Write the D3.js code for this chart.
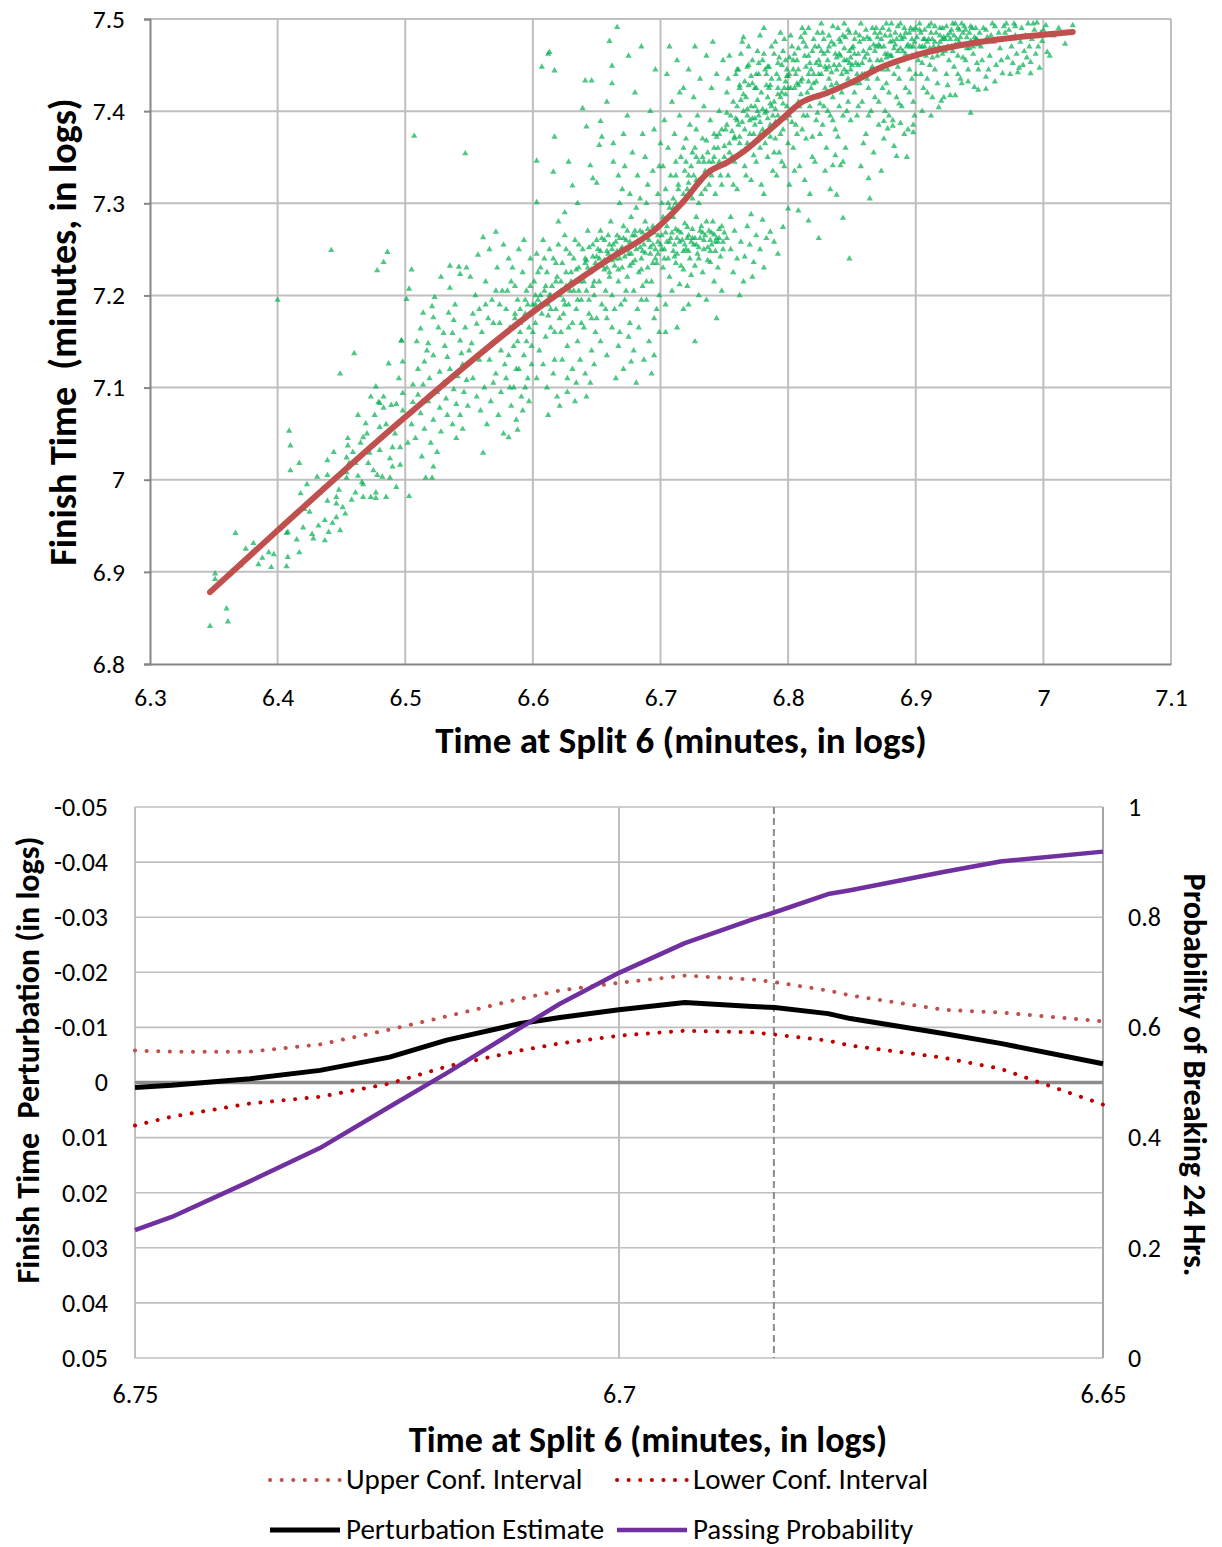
<!DOCTYPE html>
<html><head><meta charset="utf-8">
<script src="https://cdn.jsdelivr.net/npm/d3@7"></script>
<style>
body{margin:0;background:#fff;}
svg{display:block;font-family:Carlito,Lato,"Open Sans",sans-serif;}
</style></head>
<body><svg id="c" width="1222" height="1547"></svg>
<script>
// ---------- TOP PANEL DATA ----------
const topXTicks = [6.3,6.4,6.5,6.6,6.7,6.8,6.9,7.0,7.1];
const topYTicks = [6.8,6.9,7.0,7.1,7.2,7.3,7.4,7.5];
const fitX = [6.347,6.400,6.500,6.600,6.658,6.697,6.718,6.737,6.753,6.765,6.778,6.794,6.810,6.831,6.851,6.872,6.901,6.950,7.000,7.023];
const fitY = [6.878,6.945,7.068,7.182,7.238,7.273,7.302,7.333,7.345,7.356,7.371,7.390,7.409,7.420,7.432,7.447,7.461,7.475,7.483,7.486];
const scatter = [
[6.347,6.841],[6.351,6.898],[6.351,6.892],[6.360,6.860],[6.361,6.846],[6.367,6.942],[6.371,6.907],[6.381,6.931],[6.385,6.908],[6.393,6.921],[6.395,6.905],[6.397,6.919],[6.400,7.195],[6.388,6.915],[6.375,6.925],
[6.407,6.906],[6.407,6.942],[6.408,6.916],[6.408,6.943],[6.417,6.921],[6.420,6.948],[6.418,6.985],[6.421,6.968],[6.425,6.965],[6.427,6.941],[6.428,6.936],[6.429,6.981],[6.431,7.003],[6.433,6.986],[6.410,7.010],[6.409,7.053],[6.410,7.037],[6.417,7.018],[6.437,6.956],[6.437,6.934],[6.439,7.021],[6.439,7.005],[6.439,6.977],[6.440,6.943],[6.443,6.953],[6.444,7.030],[6.446,6.981],[6.446,6.974],[6.446,6.959],[6.448,6.989],[6.449,6.945],[6.442,7.249],[6.413,6.962],[6.423,6.995],[6.435,6.990],[6.415,6.935],[6.432,6.950],
[6.449,7.115],[6.451,6.970],[6.453,6.963],[6.454,7.002],[6.454,7.008],[6.454,7.024],[6.455,7.045],[6.455,7.037],[6.456,7.018],[6.458,6.978],[6.460,7.137],[6.461,6.986],[6.461,7.018],[6.463,7.004],[6.466,6.997],[6.467,6.995],[6.467,6.981],[6.467,7.046],[6.469,7.061],[6.471,7.018],[6.472,7.029],[6.473,7.090],[6.473,6.981],[6.475,7.010],[6.477,7.101],[6.477,6.986],[6.477,6.980],[6.478,7.005],[6.478,7.227],[6.479,7.084],[6.480,7.032],[6.480,7.083],[6.480,7.057],[6.482,7.003],[6.483,7.090],[6.483,7.078],[6.483,7.236],[6.485,6.981],[6.486,7.247],[6.487,7.126],[6.488,7.023],[6.488,7.002],[6.489,7.081],[6.490,7.035],[6.490,7.014],[6.493,7.082],[6.493,6.992],[6.495,7.110],[6.496,7.035],[6.496,7.016],[6.497,7.151],[6.498,7.075],[6.498,7.094],[6.465,7.040],[6.470,7.050],[6.485,7.060],[6.492,7.050],[6.476,7.070],[6.459,7.030],[6.463,7.070],
[6.507,7.373],[6.547,7.354],[6.503,7.207],[6.501,7.196],[6.505,7.228],[6.528,7.220],[6.535,7.232],[6.535,7.208],[6.523,7.198],[6.521,7.188],[6.514,7.181],[6.522,7.176],[6.512,7.164],[6.518,7.148],[6.522,7.135],[6.515,7.128],[6.510,7.120],[6.506,7.103],[6.542,7.231],[6.543,7.223],[6.548,7.230],[6.538,7.173],[6.534,7.181],[6.530,7.159],[6.537,7.159],[6.543,7.151],[6.544,7.137],[6.533,7.133],[6.527,7.117],[6.519,7.110],[6.514,7.103],[6.510,7.092],[6.506,7.084],[6.498,7.128],[6.497,7.151],
[6.505,7.060],[6.508,7.045],[6.512,7.072],[6.515,7.055],[6.518,7.085],[6.520,7.040],[6.522,7.065],[6.525,7.095],[6.527,7.078],[6.528,7.052],[6.530,7.105],[6.532,7.088],[6.533,7.070],[6.535,7.120],[6.537,7.060],[6.538,7.098],[6.540,7.082],[6.541,7.112],[6.543,7.070],[6.545,7.125],[6.546,7.095],[6.548,7.108],[6.549,7.080],[6.540,7.045],[6.525,7.030],[6.513,7.025],[6.502,7.040],[6.545,7.055],[6.550,7.140],[6.517,7.140],[6.531,7.145],[6.526,7.165],[6.547,7.165],[6.539,7.190],[6.509,7.150],
[6.503,6.982],[6.516,7.002],[6.521,7.002],[6.522,7.014],[6.561,7.029],[6.581,7.046],[6.588,7.054],[6.627,7.095],[6.677,7.128],
[6.557,7.244],[6.561,7.263],[6.571,7.269],[6.556,7.169],[6.552,7.148],[6.551,7.220],[6.555,7.200],[6.558,7.185],[6.560,7.160],[6.562,7.140],[6.563,7.215],[6.565,7.175],[6.566,7.130],[6.568,7.195],[6.570,7.150],[6.571,7.115],[6.572,7.230],[6.574,7.170],[6.575,7.140],[6.576,7.205],[6.578,7.125],[6.579,7.185],[6.580,7.160],[6.581,7.240],[6.582,7.100],[6.583,7.215],[6.585,7.145],[6.586,7.175],[6.587,7.120],[6.588,7.195],[6.589,7.250],[6.590,7.160],[6.591,7.090],[6.592,7.225],[6.593,7.135],[6.594,7.180],[6.595,7.205],[6.596,7.110],[6.597,7.165],[6.598,7.240],[6.599,7.145],[6.600,7.190],[6.553,7.110],[6.556,7.090],[6.559,7.075],[6.562,7.100],[6.564,7.060],[6.567,7.085],[6.569,7.105],[6.573,7.070],[6.575,7.095],[6.577,7.050],[6.579,7.110],[6.583,7.080],[6.585,7.100],[6.587,7.065],[6.589,7.120],[6.592,7.075],[6.594,7.100],[6.597,7.085],[6.599,7.125],[6.566,7.250],[6.577,7.255],[6.584,7.230],[6.593,7.260],[6.598,7.210],[6.571,7.205],[6.581,7.135],[6.588,7.150],[6.595,7.150],[6.558,7.130],[6.563,7.190],[6.574,7.190],[6.580,7.205],[6.590,7.185],[6.596,7.190],[6.600,7.160],[6.586,7.210],[6.569,7.170],[6.553,7.180],
[6.607,7.448],[6.613,7.464],[6.617,7.444],[6.603,7.346],[6.616,7.334],[6.603,7.301],[6.617,7.372],[6.631,7.319],[6.639,7.403],[6.642,7.383],[6.641,7.433],[6.646,7.433],[6.645,7.341],[6.647,7.327],[6.612,7.462],[6.625,7.290],[6.635,7.300],[6.628,7.345],[6.620,7.280],
[6.601,7.215],[6.602,7.170],[6.603,7.245],[6.604,7.195],[6.605,7.140],[6.606,7.230],[6.607,7.180],[6.608,7.260],[6.609,7.205],[6.610,7.155],[6.611,7.225],[6.612,7.190],[6.613,7.250],[6.614,7.165],[6.615,7.210],[6.616,7.240],[6.617,7.130],[6.618,7.185],[6.619,7.220],[6.620,7.255],[6.621,7.200],[6.622,7.160],[6.623,7.235],[6.624,7.180],[6.625,7.265],[6.626,7.210],[6.627,7.145],[6.628,7.190],[6.629,7.245],[6.630,7.225],[6.631,7.170],[6.632,7.205],[6.633,7.260],[6.634,7.185],[6.635,7.150],[6.636,7.230],[6.637,7.215],[6.638,7.195],[6.639,7.250],[6.640,7.165],[6.641,7.240],[6.642,7.205],[6.643,7.270],[6.644,7.180],[6.645,7.225],[6.646,7.140],[6.647,7.255],[6.648,7.200],[6.649,7.235],[6.650,7.175],
[6.603,7.110],[6.608,7.125],[6.611,7.100],[6.616,7.115],[6.619,7.090],[6.623,7.130],[6.627,7.110],[6.631,7.120],[6.634,7.105],[6.637,7.130],[6.641,7.115],[6.645,7.105],[6.648,7.125],[6.621,7.080],[6.633,7.085],[6.642,7.090],[6.612,7.070],
[6.604,7.225],[6.609,7.240],[6.613,7.200],[6.618,7.235],[6.622,7.215],[6.626,7.250],[6.629,7.205],[6.632,7.240],[6.636,7.255],[6.640,7.215],[6.643,7.230],[6.647,7.210],[6.606,7.200],[6.614,7.185],[6.621,7.175],[6.628,7.165],[6.635,7.195],[6.644,7.195],[6.649,7.160],[6.602,7.190],[6.617,7.160],[6.625,7.190],[6.638,7.170],[6.646,7.175],
[6.651,7.250],[6.652,7.215],[6.653,7.270],[6.654,7.190],[6.655,7.235],[6.656,7.260],[6.657,7.205],[6.658,7.175],[6.659,7.245],[6.660,7.225],[6.661,7.280],[6.662,7.200],[6.663,7.255],[6.664,7.185],[6.665,7.240],[6.666,7.265],[6.667,7.215],[6.668,7.160],[6.669,7.250],[6.670,7.230],[6.671,7.275],[6.672,7.195],[6.673,7.260],[6.674,7.220],[6.675,7.245],[6.676,7.170],[6.677,7.285],[6.678,7.235],[6.679,7.205],[6.680,7.265],[6.681,7.250],[6.682,7.185],[6.683,7.225],[6.684,7.270],[6.685,7.240],[6.686,7.210],[6.687,7.255],[6.688,7.280],[6.689,7.195],[6.690,7.230],[6.691,7.260],[6.692,7.245],[6.693,7.215],[6.694,7.275],[6.695,7.175],[6.696,7.250],[6.697,7.235],[6.698,7.265],[6.699,7.200],[6.700,7.255],
[6.652,7.240],[6.656,7.228],[6.660,7.255],[6.664,7.232],[6.668,7.262],[6.672,7.242],[6.676,7.258],[6.680,7.238],[6.684,7.252],[6.688,7.246],[6.692,7.268],[6.696,7.240],[6.654,7.262],[6.662,7.238],[6.670,7.252],[6.678,7.265],[6.686,7.268],[6.694,7.255],[6.698,7.245],[6.666,7.248],[6.674,7.270],[6.682,7.258],[6.690,7.272],
[6.653,7.150],[6.658,7.135],[6.662,7.165],[6.667,7.145],[6.671,7.120],[6.675,7.155],[6.679,7.140],[6.683,7.165],[6.687,7.130],[6.691,7.150],[6.695,7.135],[6.699,7.160],[6.665,7.110],[6.681,7.105],[6.693,7.115],[6.657,7.185],[6.669,7.190],[6.685,7.195],[6.697,7.185],[6.673,7.205],[6.689,7.215],
[6.650,7.322],[6.653,7.389],[6.654,7.372],[6.652,7.363],[6.660,7.476],[6.662,7.449],[6.662,7.430],[6.663,7.365],[6.663,7.345],[6.666,7.491],[6.668,7.300],[6.670,7.315],[6.672,7.340],[6.674,7.395],[6.676,7.310],[6.678,7.355],[6.680,7.420],[6.682,7.330],[6.684,7.305],[6.686,7.375],[6.688,7.350],[6.690,7.320],[6.692,7.400],[6.694,7.335],[6.696,7.445],[6.698,7.310],[6.700,7.365],[6.675,7.460],[6.685,7.470],[6.658,7.410],[6.667,7.330],[6.689,7.300],[6.695,7.380],[6.699,7.340],[6.671,7.375],[6.681,7.295],
[6.701,7.265],[6.703,7.250],[6.705,7.275],[6.706,7.240],[6.708,7.262],[6.710,7.285],[6.711,7.255],[6.713,7.245],[6.714,7.270],[6.716,7.232],[6.717,7.260],[6.719,7.278],[6.720,7.250],[6.722,7.265],[6.723,7.240],[6.725,7.272],[6.726,7.255],[6.728,7.285],[6.729,7.245],[6.731,7.262],[6.732,7.275],[6.734,7.250],[6.735,7.265],[6.737,7.238],[6.738,7.270],[6.740,7.255],[6.741,7.280],[6.743,7.248],[6.744,7.262],[6.746,7.272],[6.747,7.242],[6.749,7.258],[6.750,7.268],
[6.702,7.230],[6.707,7.220],[6.712,7.235],[6.715,7.212],[6.718,7.228],[6.724,7.222],[6.727,7.232],[6.733,7.225],[6.739,7.236],[6.745,7.230],[6.709,7.205],[6.721,7.210],[6.730,7.200],[6.742,7.215],[6.704,7.190],[6.718,7.185],[6.736,7.195],[6.748,7.205],[6.713,7.165],[6.727,7.150],[6.704,7.160],[6.744,7.175],[6.722,7.190],
[6.702,7.280],[6.709,7.268],[6.715,7.258],[6.721,7.274],[6.727,7.262],[6.733,7.268],[6.739,7.260],[6.745,7.258],[6.705,7.258],[6.711,7.242],[6.718,7.248],[6.724,7.258],[6.730,7.252],[6.736,7.280],[6.742,7.266],
[6.701,7.300],[6.702,7.340],[6.703,7.390],[6.704,7.315],[6.705,7.440],[6.706,7.360],[6.707,7.295],[6.708,7.330],[6.709,7.410],[6.710,7.305],[6.711,7.375],[6.712,7.345],[6.713,7.455],[6.714,7.320],[6.715,7.395],[6.716,7.350],[6.717,7.300],[6.718,7.425],[6.719,7.335],[6.720,7.370],[6.721,7.315],[6.722,7.445],[6.723,7.385],[6.724,7.340],[6.725,7.305],[6.726,7.415],[6.727,7.360],[6.728,7.325],[6.729,7.395],[6.730,7.345],[6.731,7.435],[6.732,7.310],[6.733,7.370],[6.734,7.405],[6.735,7.335],[6.736,7.460],[6.737,7.355],[6.738,7.320],[6.739,7.390],[6.740,7.425],[6.741,7.345],[6.742,7.375],[6.743,7.310],[6.744,7.440],[6.745,7.360],[6.746,7.400],[6.747,7.330],[6.748,7.380],[6.749,7.455],[6.750,7.350],
[6.712,7.300],[6.722,7.330],[6.730,7.300],[6.735,7.315],[6.740,7.330],[6.745,7.340],[6.748,7.320],[6.725,7.355],[6.733,7.350],[6.738,7.345],[6.742,7.360],[6.746,7.375],[6.718,7.360],[6.728,7.380],[6.715,7.420],[6.707,7.470],[6.727,7.470],[6.741,7.475],
[6.752,7.262],[6.755,7.250],[6.758,7.270],[6.760,7.240],[6.763,7.258],[6.766,7.242],[6.768,7.275],[6.770,7.255],[6.773,7.236],[6.775,7.265],[6.778,7.250],[6.780,7.282],[6.783,7.262],[6.786,7.269],[6.789,7.258],[6.796,7.274],[6.800,7.294],[6.808,7.292],[6.816,7.281],[6.824,7.262],[6.843,7.284],[6.757,7.225],[6.765,7.215],[6.772,7.220],[6.781,7.230],[6.762,7.200],[6.792,7.245],[6.848,7.240],[6.755,7.285],[6.771,7.288],
[6.751,7.380],[6.752,7.420],[6.753,7.330],[6.754,7.460],[6.755,7.395],[6.756,7.350],[6.757,7.410],[6.758,7.370],[6.759,7.440],[6.760,7.315],[6.761,7.385],[6.762,7.425],[6.763,7.355],[6.764,7.475],[6.765,7.400],[6.766,7.340],[6.767,7.415],[6.768,7.365],[6.769,7.450],[6.770,7.390],[6.771,7.325],[6.772,7.430],[6.773,7.375],[6.774,7.405],[6.775,7.345],[6.776,7.465],[6.777,7.395],[6.778,7.360],[6.779,7.420],[6.780,7.380],[6.781,7.310],[6.782,7.445],[6.783,7.400],[6.784,7.350],[6.785,7.425],[6.786,7.385],[6.787,7.470],[6.788,7.335],[6.789,7.410],[6.790,7.370],[6.791,7.440],[6.792,7.395],[6.793,7.355],[6.794,7.485],[6.795,7.420],[6.796,7.380],[6.797,7.340],[6.798,7.455],[6.799,7.405],[6.800,7.365],
[6.752,7.398],[6.756,7.378],[6.760,7.405],[6.764,7.388],[6.768,7.402],[6.772,7.392],[6.776,7.412],[6.780,7.402],[6.784,7.415],[6.788,7.395],[6.792,7.418],[6.796,7.408],[6.800,7.425],[6.754,7.365],[6.758,7.345],[6.762,7.372],[6.766,7.358],[6.770,7.362],[6.774,7.385],[6.778,7.375],[6.782,7.365],[6.786,7.372],[6.790,7.388],[6.794,7.375],[6.798,7.392],[6.753,7.435],[6.761,7.445],[6.769,7.428],[6.777,7.440],[6.785,7.448],[6.793,7.435],[6.799,7.445],[6.757,7.320],[6.767,7.330],[6.779,7.320],[6.791,7.330],[6.795,7.345],[6.771,7.405],[6.783,7.428],[6.775,7.425],[6.763,7.412],[6.787,7.405],[6.797,7.425],[6.759,7.392],[6.773,7.352],[6.789,7.355],[6.765,7.480],[6.781,7.490],[6.797,7.478],
[6.801,7.440],[6.802,7.400],[6.803,7.470],[6.804,7.360],[6.805,7.425],[6.806,7.385],[6.807,7.455],[6.808,7.410],[6.809,7.340],[6.810,7.480],[6.811,7.435],[6.812,7.395],[6.813,7.460],[6.814,7.370],[6.815,7.420],[6.816,7.490],[6.817,7.405],[6.818,7.445],[6.819,7.350],[6.820,7.430],[6.821,7.470],[6.822,7.390],[6.823,7.415],[6.824,7.455],[6.825,7.375],[6.826,7.440],[6.827,7.485],[6.828,7.405],[6.829,7.425],[6.830,7.360],[6.831,7.465],[6.832,7.435],[6.833,7.395],[6.834,7.475],[6.835,7.415],[6.836,7.450],[6.837,7.380],[6.838,7.430],[6.839,7.490],[6.840,7.405],[6.841,7.460],[6.842,7.420],[6.843,7.345],[6.844,7.445],[6.845,7.480],[6.846,7.400],[6.847,7.435],[6.848,7.465],[6.849,7.390],[6.850,7.450],
[6.802,7.425],[6.806,7.440],[6.810,7.418],[6.814,7.448],[6.818,7.425],[6.822,7.452],[6.826,7.418],[6.830,7.445],[6.834,7.428],[6.838,7.458],[6.842,7.440],[6.846,7.455],[6.850,7.430],[6.804,7.455],[6.808,7.468],[6.812,7.475],[6.816,7.460],[6.820,7.478],[6.824,7.470],[6.828,7.462],[6.832,7.482],[6.836,7.472],[6.840,7.478],[6.844,7.468],[6.848,7.485],[6.803,7.388],[6.807,7.375],[6.811,7.380],[6.815,7.395],[6.819,7.372],[6.823,7.398],[6.827,7.385],[6.831,7.400],[6.835,7.390],[6.839,7.372],[6.843,7.395],[6.847,7.410],[6.805,7.335],[6.813,7.325],[6.821,7.345],[6.829,7.335],[6.837,7.352],[6.845,7.360],[6.817,7.310],[6.833,7.315],[6.801,7.320],[6.838,7.309],[6.835,7.341],[6.841,7.341],[6.825,7.408],[6.809,7.405],[6.849,7.445],[6.801,7.395],[6.826,7.495],[6.844,7.495],
[6.851,7.470],[6.852,7.420],[6.853,7.485],[6.854,7.395],[6.855,7.450],[6.856,7.430],[6.857,7.495],[6.858,7.410],[6.859,7.465],[6.860,7.440],[6.861,7.375],[6.862,7.480],[6.863,7.425],[6.864,7.455],[6.865,7.400],[6.866,7.490],[6.867,7.445],[6.868,7.415],[6.869,7.470],[6.870,7.435],[6.871,7.385],[6.872,7.485],[6.873,7.455],[6.874,7.425],[6.875,7.470],[6.876,7.400],[6.877,7.495],[6.878,7.445],[6.879,7.420],[6.880,7.475],[6.881,7.460],[6.882,7.390],[6.883,7.440],[6.884,7.485],[6.885,7.415],[6.886,7.465],[6.887,7.435],[6.888,7.495],[6.889,7.405],[6.890,7.455],[6.891,7.480],[6.892,7.425],[6.893,7.470],[6.894,7.380],[6.895,7.445],[6.896,7.490],[6.897,7.460],[6.898,7.410],[6.899,7.475],[6.900,7.440],
[6.852,7.462],[6.856,7.475],[6.860,7.458],[6.864,7.478],[6.868,7.465],[6.872,7.470],[6.876,7.482],[6.880,7.460],[6.884,7.472],[6.888,7.468],[6.892,7.485],[6.896,7.470],[6.854,7.440],[6.858,7.452],[6.862,7.435],[6.866,7.448],[6.870,7.455],[6.874,7.445],[6.878,7.462],[6.882,7.452],[6.886,7.448],[6.890,7.465],[6.894,7.458],[6.898,7.488],[6.855,7.405],[6.863,7.395],[6.871,7.410],[6.879,7.395],[6.887,7.408],[6.895,7.420],[6.859,7.365],[6.867,7.355],[6.875,7.370],[6.883,7.362],[6.891,7.375],[6.899,7.395],[6.863,7.327],[6.864,7.305],[6.885,7.351],[6.857,7.340],[6.873,7.335],[6.893,7.350],[6.869,7.490],[6.881,7.495],[6.853,7.430],[6.877,7.430],[6.897,7.435],
[6.901,7.480],[6.902,7.455],[6.903,7.495],[6.904,7.440],[6.905,7.470],[6.906,7.425],[6.907,7.488],[6.908,7.460],[6.909,7.435],[6.910,7.478],[6.911,7.450],[6.912,7.495],[6.913,7.415],[6.914,7.470],[6.915,7.445],[6.916,7.485],[6.917,7.460],[6.918,7.404],[6.919,7.475],[6.920,7.411],[6.921,7.490],[6.922,7.415],[6.923,7.465],[6.924,7.440],[6.925,7.482],[6.926,7.455],[6.927,7.417],[6.928,7.470],[6.929,7.495],[6.930,7.448],[6.931,7.417],[6.932,7.478],[6.933,7.460],[6.934,7.488],[6.935,7.435],[6.936,7.430],[6.937,7.472],[6.938,7.492],[6.939,7.455],[6.940,7.480],[6.941,7.445],[6.942,7.468],[6.943,7.398],[6.944,7.490],[6.945,7.462],[6.946,7.426],[6.947,7.478],[6.948,7.452],[6.949,7.423],[6.950,7.485],
[6.903,7.470],[6.907,7.478],[6.911,7.468],[6.915,7.475],[6.919,7.482],[6.923,7.478],[6.927,7.485],[6.931,7.472],[6.935,7.480],[6.939,7.488],[6.943,7.476],[6.947,7.490],[6.905,7.452],[6.913,7.458],[6.921,7.462],[6.929,7.465],[6.937,7.458],[6.945,7.470],[6.909,7.420],[6.917,7.430],[6.925,7.428],[6.933,7.440],[6.941,7.432],[6.949,7.445],[6.898,7.377],[6.898,7.385],[6.888,7.387],[6.878,7.381],[6.875,7.389],[6.882,7.384],[6.912,7.395],[6.905,7.400],
[6.951,7.470],[6.953,7.490],[6.955,7.424],[6.955,7.437],[6.956,7.480],[6.958,7.460],[6.960,7.495],[6.961,7.475],[6.963,7.450],[6.965,7.485],[6.966,7.468],[6.968,7.441],[6.969,7.492],[6.970,7.478],[6.972,7.458],[6.973,7.488],[6.975,7.470],[6.977,7.495],[6.978,7.482],[6.980,7.442],[6.981,7.447],[6.982,7.475],[6.983,7.490],[6.985,7.465],[6.986,7.482],[6.988,7.495],[6.990,7.441],[6.990,7.453],[6.991,7.478],[6.993,7.488],[6.995,7.496],[6.996,7.470],[6.997,7.447],[6.998,7.485],[7.002,7.493],[7.003,7.464],[7.005,7.460],[7.008,7.482],[7.012,7.490],[7.017,7.473],[7.023,7.493],[6.957,7.445],[6.962,7.432],[6.967,7.455],[6.974,7.440],[6.979,7.462],[6.984,7.450],[6.989,7.470],[6.994,7.462],[6.999,7.476],[6.952,7.455],[6.964,7.478],[6.971,7.495],[6.976,7.452],[6.987,7.458],[7.000,7.488],[6.959,7.482],[6.992,7.495]
];
// extra points read from the densest parts of the cloud
const scatterCore = [
[6.760,7.445],[6.763,7.462],[6.766,7.432],[6.769,7.470],[6.772,7.455],[6.775,7.440],[6.778,7.482],[6.781,7.462],[6.784,7.448],[6.787,7.435],[6.790,7.475],[6.793,7.458],[6.796,7.465],[6.799,7.438],[6.802,7.482],[6.805,7.462],[6.808,7.445],[6.811,7.490],[6.814,7.470],[6.817,7.452],[6.820,7.440],[6.823,7.485],[6.826,7.465],[6.829,7.448],[6.832,7.470],[6.835,7.492],[6.838,7.445],[6.841,7.475],[6.844,7.455],[6.847,7.488],[6.850,7.468],[6.853,7.452],[6.856,7.482],[6.859,7.478],[6.862,7.462],[6.865,7.445],[6.868,7.485],[6.871,7.472],[6.874,7.490],[6.877,7.458],[6.880,7.482],[6.883,7.468],[6.886,7.492],[6.889,7.478],[6.892,7.462],[6.895,7.485],[6.898,7.470],[6.901,7.462],[6.904,7.485],[6.907,7.470],[6.910,7.492],[6.913,7.478],[6.916,7.465],[6.919,7.490],[6.922,7.480],[6.925,7.470],[6.928,7.488],[6.931,7.495],[6.934,7.475],[6.937,7.485],[6.940,7.468],[6.943,7.492],[6.946,7.480],[6.949,7.472],
[6.762,7.428],[6.768,7.448],[6.774,7.425],[6.780,7.455],[6.786,7.428],[6.792,7.452],[6.798,7.432],[6.804,7.445],[6.810,7.432],[6.816,7.440],[6.822,7.432],[6.828,7.478],[6.834,7.442],[6.840,7.462],[6.846,7.442],[6.852,7.478],[6.858,7.440],[6.864,7.468],[6.870,7.480],[6.876,7.462],[6.882,7.476],[6.888,7.482],[6.894,7.472],[6.900,7.490],[6.906,7.478],[6.912,7.485],[6.918,7.470],[6.924,7.492],[6.930,7.482],[6.936,7.495],[6.942,7.485],[6.948,7.478],[6.955,7.488],[6.962,7.492],[6.970,7.485],[6.978,7.492],
[6.765,7.418],[6.771,7.438],[6.777,7.452],[6.783,7.440],[6.789,7.462],[6.795,7.450],[6.801,7.458],[6.807,7.430],[6.813,7.485],[6.819,7.465],[6.825,7.450],[6.831,7.455],[6.837,7.462],[6.843,7.482],[6.849,7.458],[6.855,7.462],[6.861,7.488],[6.867,7.472],[6.873,7.478],[6.879,7.488],[6.885,7.478],[6.891,7.490],[6.897,7.478],[6.903,7.488],[6.909,7.475],[6.915,7.492],[6.921,7.478],[6.927,7.478],[6.933,7.490],[6.939,7.472],
[6.641,7.235],[6.644,7.252],[6.647,7.242],[6.650,7.260],[6.653,7.248],[6.656,7.238],[6.659,7.265],[6.662,7.250],[6.665,7.258],[6.668,7.240],[6.671,7.262],[6.674,7.250],[6.677,7.245],[6.680,7.270],[6.683,7.258],[6.686,7.248],[6.689,7.262],[6.692,7.252],[6.695,7.268],[6.698,7.258],[6.701,7.250],[6.704,7.268],[6.707,7.258],[6.710,7.248],[6.713,7.262],[6.716,7.268],[6.719,7.255],[6.722,7.248],[6.725,7.262],[6.728,7.255],[6.731,7.270],[6.734,7.260],[6.737,7.252],[6.740,7.268],[6.743,7.258],[6.746,7.262],[6.749,7.250],[6.658,7.230],[6.667,7.228],[6.676,7.232],[6.685,7.228],[6.694,7.235],[6.703,7.240],[6.712,7.272],[6.721,7.262],[6.730,7.240],[6.739,7.248],[6.748,7.275],
[6.702,7.285],[6.706,7.300],[6.710,7.295],[6.714,7.315],[6.718,7.310],[6.722,7.322],[6.726,7.330],[6.730,7.325],[6.734,7.345],[6.738,7.335],[6.742,7.350],[6.746,7.345],[6.750,7.362],[6.754,7.355],[6.758,7.372],[6.762,7.365],[6.766,7.380],[6.770,7.375],[6.774,7.392],[6.778,7.388],[6.782,7.398],[6.786,7.408],[6.790,7.402],[6.794,7.415],[6.798,7.418],[6.712,7.330],[6.720,7.345],[6.728,7.350],[6.736,7.368],[6.744,7.372],[6.752,7.385],[6.760,7.390],[6.768,7.395],[6.776,7.400],[6.784,7.392],[6.792,7.425],[6.800,7.438],[6.808,7.428],[6.816,7.432],[6.824,7.440],[6.832,7.448],[6.840,7.450],[6.848,7.452],
[6.582,7.165],[6.586,7.180],[6.590,7.170],[6.594,7.195],[6.598,7.180],[6.602,7.200],[6.606,7.190],[6.610,7.210],[6.614,7.200],[6.618,7.215],[6.622,7.205],[6.626,7.225],[6.630,7.215],[6.634,7.228],[6.638,7.220],[6.642,7.238],[6.646,7.228],[6.650,7.242],[6.654,7.232],[6.658,7.248],[6.612,7.178],[6.624,7.195],[6.636,7.205],[6.648,7.215],[6.660,7.220]
];

// ---------- BOTTOM PANEL DATA ----------
const splitX   = [6.750,6.7462,6.7381,6.7309,6.7237,6.7178,6.7102,6.7061,6.7000,6.6932,6.6862,6.6839,6.6784,6.6761,6.6665,6.6606,6.6500];
const estimate = [0.0009,0.0005,-0.0007,-0.0022,-0.0046,-0.0077,-0.0107,-0.0118,-0.0132,-0.0145,-0.0138,-0.0136,-0.0125,-0.0116,-0.0089,-0.0071,-0.0034];
const upperCI  = [-0.0058,-0.0056,-0.0056,-0.0069,-0.0096,-0.0120,-0.0152,-0.0167,-0.0181,-0.0194,-0.0187,-0.0182,-0.0167,-0.0158,-0.0132,-0.0127,-0.0111];
const lowerCI  = [0.0078,0.0062,0.0038,0.0026,0.0002,-0.0029,-0.0058,-0.0071,-0.0085,-0.0094,-0.0091,-0.0087,-0.0076,-0.0067,-0.0045,-0.0025,0.0040];
const passProb = [0.232,0.256,0.321,0.381,0.456,0.517,0.599,0.643,0.699,0.753,0.796,0.809,0.842,0.849,0.882,0.901,0.919];
const markerX = 6.684;
const botXTicks = [6.75,6.7,6.65];
const botYTicks = [-0.05,-0.04,-0.03,-0.02,-0.01,0,0.01,0.02,0.03,0.04,0.05];
const probTicks = [0,0.2,0.4,0.6,0.8,1];
const legendItems = [
  {name:"Upper Conf. Interval", key:"upper"},
  {name:"Lower Conf. Interval", key:"lower"},
  {name:"Perturbation Estimate", key:"est"},
  {name:"Passing Probability", key:"prob"}
];

const svg = d3.select("#c");
const FONT = 'Carlito,Lato,"Open Sans",sans-serif';
const grid = "#bfbfbf", axisCol = "#868686";
const fmtG = d => String(+d.toFixed(2));

// ================= TOP PANEL =================
const tx = d3.scaleLinear().domain([6.3,7.1]).range([150,1171]);
const ty = d3.scaleLinear().domain([6.8,7.5]).range([664,19]);
const topG = svg.append("g");

topG.append("g").selectAll("line").data(topXTicks.slice(1)).join("line")
  .attr("x1",d=>tx(d)).attr("x2",d=>tx(d)).attr("y1",ty(6.8)).attr("y2",ty(7.5))
  .attr("stroke",grid).attr("stroke-width",2);
topG.append("g").selectAll("line").data(topYTicks.slice(1)).join("line")
  .attr("x1",tx(6.3)).attr("x2",tx(7.1)).attr("y1",d=>ty(d)).attr("y2",d=>ty(d))
  .attr("stroke",grid).attr("stroke-width",2);

const tyAxis = topG.append("g").attr("transform","translate(150,0)")
  .call(d3.axisLeft(ty).tickValues(topYTicks).tickSize(6).tickPadding(19).tickFormat(fmtG));
tyAxis.select(".domain").attr("stroke",axisCol).attr("stroke-width",2);
tyAxis.selectAll(".tick line").attr("stroke",axisCol).attr("stroke-width",2);
tyAxis.selectAll("text").attr("font-family",FONT).attr("font-size",25.5).attr("fill","#000");

const txAxis = topG.append("g").attr("transform","translate(0,664)")
  .call(d3.axisBottom(tx).tickValues(topXTicks).tickSize(0).tickPadding(24).tickFormat(fmtG));
txAxis.select(".domain").attr("stroke",axisCol).attr("stroke-width",2);
txAxis.selectAll("text").attr("font-family",FONT).attr("font-size",25.5).attr("fill","#000");

const tri = d3.symbol().type(d3.symbolTriangle).size(17);
topG.append("g").selectAll("path").data(scatter.concat(scatterCore)).join("path")
  .attr("d",tri).attr("transform",d=>`translate(${tx(d[0])},${ty(d[1])})`)
  .attr("fill","#00b050").attr("fill-opacity",0.7);

const fitLine = d3.line().x((d,i)=>tx(fitX[i])).y(d=>ty(d)).curve(d3.curveMonotoneX);
topG.append("path").datum(fitY).attr("d",fitLine).attr("fill","none")
  .attr("stroke","#c0504d").attr("stroke-width",6).attr("stroke-linecap","round");

topG.append("text").attr("x",681).attr("y",753).attr("text-anchor","middle")
  .attr("font-family",FONT).attr("font-weight","bold").attr("font-size",37).text("Time at Split 6 (minutes, in logs)");
topG.append("text").attr("transform","translate(76,332) rotate(-90)").attr("text-anchor","middle")
  .attr("font-family",FONT).attr("font-weight","bold").attr("font-size",38).attr("xml:space","preserve").text("Finish Time  (minutes, in logs)");

// ================= BOTTOM PANEL =================
const bx = d3.scaleLinear().domain([6.75,6.65]).range([135,1103]);
const by = d3.scaleLinear().domain([-0.05,0.05]).range([807,1358]);
const bp = d3.scaleLinear().domain([0,1]).range([1358,807]);
const botG = svg.append("g");

botG.append("g").selectAll("line").data(botYTicks).join("line")
  .attr("x1",bx(6.75)).attr("x2",bx(6.65)).attr("y1",d=>by(d)).attr("y2",d=>by(d))
  .attr("stroke",grid).attr("stroke-width",1.6);
botG.append("g").selectAll("line").data(botXTicks).join("line")
  .attr("x1",d=>bx(d)).attr("x2",d=>bx(d)).attr("y1",by(-0.05)).attr("y2",by(0.05))
  .attr("stroke",d=>d===6.65?"#a6a6a6":grid).attr("stroke-width",2);
botG.append("line").attr("x1",bx(6.75)).attr("x2",bx(6.65)).attr("y1",by(0)).attr("y2",by(0))
  .attr("stroke","#8c8c8c").attr("stroke-width",3.5);
botG.append("line").attr("x1",bx(markerX)).attr("x2",bx(markerX)).attr("y1",by(-0.05)).attr("y2",by(0.05))
  .attr("stroke","#8c8c8c").attr("stroke-width",2).attr("stroke-dasharray","7,4");

const fmtL = d => d===0 ? "0" : (d<0?"-":"") + Math.abs(d).toFixed(2);
const byAxis = botG.append("g").attr("transform","translate(135,0)")
  .call(d3.axisLeft(by).tickValues(botYTicks).tickSize(0).tickPadding(27).tickFormat(fmtL));
byAxis.select(".domain").remove();
byAxis.selectAll("text").attr("font-family",FONT).attr("font-size",26).attr("fill","#000");

const bpAxis = botG.append("g").attr("transform","translate(1103,0)")
  .call(d3.axisRight(bp).tickValues(probTicks).tickSize(0).tickPadding(25).tickFormat(fmtG));
bpAxis.select(".domain").remove();
bpAxis.selectAll("text").attr("font-family",FONT).attr("font-size",26).attr("fill","#000");

const bxAxis = botG.append("g").attr("transform","translate(0,1358)")
  .call(d3.axisBottom(bx).tickValues(botXTicks).tickSize(0).tickPadding(27).tickFormat(fmtG));
bxAxis.select(".domain").remove();
bxAxis.selectAll("text").attr("font-family",FONT).attr("font-size",26).attr("fill","#000");

const lineL = d3.line().x((d,i)=>bx(splitX[i])).y(d=>by(d));
const lineR = d3.line().x((d,i)=>bx(splitX[i])).y(d=>bp(d));
const styles = {
  upper:{stroke:"#c0504d",w:4,dash:"0.1,11.5",cap:"round"},
  lower:{stroke:"#c00000",w:4,dash:"0.1,11.5",cap:"round"},
  est:{stroke:"#000000",w:5,dash:null,cap:"butt"},
  prob:{stroke:"#7030a0",w:4.5,dash:null,cap:"butt"}
};
function drawSeries(data,gen,st){
  botG.append("path").datum(data).attr("d",gen).attr("fill","none")
    .attr("stroke",st.stroke).attr("stroke-width",st.w).attr("stroke-dasharray",st.dash)
    .attr("stroke-linecap",st.cap).attr("stroke-linejoin","round");
}
drawSeries(upperCI,lineL,styles.upper);
drawSeries(lowerCI,lineL,styles.lower);
drawSeries(estimate,lineL,styles.est);
drawSeries(passProb,lineR,styles.prob);

botG.append("text").attr("x",648).attr("y",1452).attr("text-anchor","middle")
  .attr("font-family",FONT).attr("font-weight","bold").attr("font-size",36).text("Time at Split 6 (minutes, in logs)");
botG.append("text").attr("transform","translate(39,1060) rotate(-90)").attr("text-anchor","middle")
  .attr("font-family",FONT).attr("font-weight","bold").attr("font-size",32).attr("xml:space","preserve").text("Finish Time  Perturbation (in logs)");
botG.append("text").attr("transform","translate(1184,1075) rotate(90)").attr("text-anchor","middle")
  .attr("font-family",FONT).attr("font-weight","bold").attr("font-size",32).text("Probability of Breaking 24 Hrs.");

const legPos = [[268,1480],[615,1480],[268,1530],[615,1530]];
legendItems.forEach((it,i)=>{
  const [lx,ly] = legPos[i]; const st = styles[it.key];
  botG.append("line").attr("x1",lx+2).attr("x2",lx+72).attr("y1",ly).attr("y2",ly)
    .attr("stroke",st.stroke).attr("stroke-width",st.w).attr("stroke-dasharray",st.dash).attr("stroke-linecap",st.cap);
  botG.append("text").attr("x",lx+78).attr("y",ly+9).attr("font-family",FONT).attr("font-size",29).text(it.name);
});
</script></body></html>
